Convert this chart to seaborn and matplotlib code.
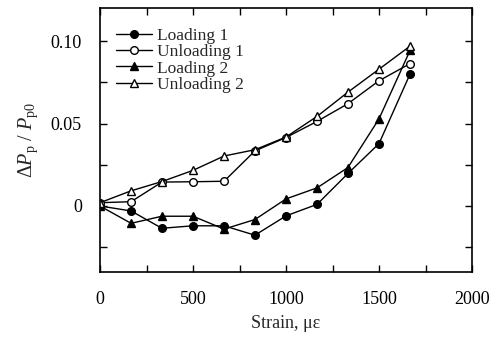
import numpy as np
import pandas as pd
import matplotlib
matplotlib.use("Agg")
import matplotlib.pyplot as plt
import seaborn as sns

strain = [0, 167, 333, 500, 667, 833, 1000, 1167, 1333, 1500, 1667]
loading1 = [0.0, -0.003, -0.0135, -0.012, -0.012, -0.0177, -0.006, 0.001, 0.0197, 0.0378, 0.080]
unloading1 = [0.002, 0.0026, 0.0145, 0.0147, 0.015, 0.0334, 0.0415, 0.0513, 0.062, 0.0759, 0.0863]
loading2 = [0.0, -0.0105, -0.0062, -0.0062, -0.014, -0.0082, 0.0043, 0.011, 0.0233, 0.0528, 0.0943]
unloading2 = [0.002, 0.0092, 0.0148, 0.0216, 0.0303, 0.0341, 0.0418, 0.0543, 0.069, 0.0829, 0.0969]
series_names = ["Loading 1", "Unloading 1", "Loading 2", "Unloading 2"]
x_ticks = [0, 250, 500, 750, 1000, 1250, 1500, 1750, 2000]
x_labels = ["0", "", "500", "", "1000", "", "1500", "", "2000"]
y_ticks = [-0.025, 0, 0.025, 0.05, 0.075, 0.10]
y_labels = ["", "0", "", "0.05", "", "0.10"]

sns.set_theme(style="ticks")
plt.rcParams["font.family"] = ["Liberation Serif", "DejaVu Serif"]
plt.rcParams["mathtext.fontset"] = "custom"
plt.rcParams["mathtext.rm"] = "Liberation Serif"
plt.rcParams["mathtext.it"] = "Liberation Serif:italic"

df = pd.DataFrame({
    "strain": strain * 4,
    "value": loading1 + unloading1 + loading2 + unloading2,
    "series": sum([[n] * len(strain) for n in series_names], []),
})

fig = plt.figure(figsize=(4.99, 3.4), dpi=100)
ax = fig.add_axes([100 / 499, 68 / 340, 372 / 499, 264 / 340])

styles = {
    "Loading 1": dict(marker="o", markerfacecolor="black"),
    "Unloading 1": dict(marker="o", markerfacecolor="white"),
    "Loading 2": dict(marker="^", markerfacecolor="black"),
    "Unloading 2": dict(marker="^", markerfacecolor="white"),
}
for name in series_names:
    sub = df[df["series"] == name]
    st = styles[name]
    sns.lineplot(data=sub, x="strain", y="value", ax=ax, color="black", lw=1.0,
                 marker=st["marker"], markerfacecolor=st["markerfacecolor"],
                 markeredgecolor="black", markeredgewidth=1.0, markersize=5.5,
                 label=name, sort=False)

ax.set_xlim(0, 2000)
ax.set_ylim(-0.04, 0.12)
ax.set_xticks(x_ticks)
ax.set_xticklabels(x_labels)
ax.set_yticks(y_ticks)
ax.set_yticklabels(y_labels)
ax.tick_params(direction="in", length=5, width=1, top=True, right=True,
               labelsize=13, colors="black")
ax.tick_params(axis="x", pad=14)
ax.tick_params(axis="y", pad=13)
for s in ax.spines.values():
    s.set_linewidth(1.2)
    s.set_color("black")

ax.set_xlabel("Strain, με", fontsize=13, labelpad=5)
ax.set_ylabel(r"$\mathit{ΔP}_\mathrm{p}$ / $\mathit{P}_\mathrm{p0}$", fontsize=14.5, labelpad=8)

leg = ax.legend(loc="upper left", frameon=False, fontsize=12.5, handlelength=2.1,
                handletextpad=0.25, labelspacing=0.0, borderaxespad=0.3,
                bbox_to_anchor=(0.01, 0.97))

fig.savefig("out.png", dpi=100)
